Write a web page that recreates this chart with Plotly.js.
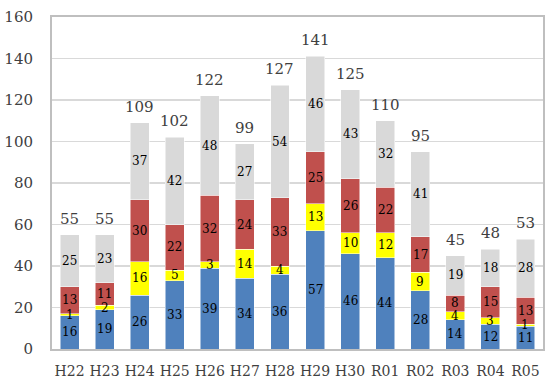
<!DOCTYPE html>
<html>
<head>
<meta charset="utf-8">
<script src="https://cdn.plot.ly/plotly-3.0.1.min.js"></script>
<style>html,body{margin:0;padding:0;background:#fff;}#chart{width:551px;height:388px;}</style>
</head>
<body>
<div id="chart"></div>
<script>
const categories = ["H22","H23","H24","H25","H26","H27","H28","H29","H30","R01","R02","R03","R04","R05"];
const blueVals   = [16,19,26,33,39,34,36,57,46,44,28,14,12,11];
const yellowVals = [1,2,16,5,3,14,4,13,10,12,9,4,3,1];
const redVals    = [13,11,30,22,32,24,33,25,26,22,17,8,15,13];
const grayVals   = [25,23,37,42,48,27,54,46,43,32,41,19,18,28];
const totals     = [55,55,109,102,122,99,127,141,125,110,95,45,48,53];
const yTicks     = [0,20,40,60,80,100,120,140,160];

const serif = "DejaVu Serif";
const seriesList = [blueVals, yellowVals, redVals, grayVals];
const colors = ['#4F81BD','#FFFF00','#C0504D','#D9D9D9'];
const data = seriesList.map((vals,k)=>({
  type:'bar', x:categories, y:vals, textposition:'none',
  marker:{color:colors[k], line:{color:'#ffffff', width:0.5}},
  hoverinfo:'none'
}));

const annotations = [];
categories.forEach((c,i)=>{
  let base = 0;
  seriesList.forEach(vals=>{
    annotations.push({x:c, y:base + vals[i]/2, text:String(vals[i]), showarrow:false,
      xanchor:'center', yanchor:'middle', font:{family:serif, size:12, color:'#000'}});
    base += vals[i];
  });
  annotations.push({x:c, y:totals[i], text:String(totals[i]), showarrow:false,
    yanchor:'bottom', yshift:5, font:{family:serif, size:15, color:'#404040'}});
});

const layout = {
  width:551, height:388,
  margin:{l:52, r:8, t:17, b:39},
  barmode:'stack', bargap:0.46, showlegend:false,
  paper_bgcolor:'#fff', plot_bgcolor:'#fff',
  font:{family:serif, color:'#404040'},
  xaxis:{type:'category', showgrid:false, showline:true, linecolor:'#BFBFBF', linewidth:2, mirror:true,
         ticks:'', tickangle:0, tickfont:{family:serif, size:14, color:'#404040'}, ticklabelstandoff:8},
  yaxis:{range:[0,160], tickvals:yTicks, ticktext:yTicks.map(String), showgrid:true, gridcolor:'#D9D9D9', gridwidth:1.5,
         showline:true, linecolor:'#BFBFBF', linewidth:2, mirror:true, zeroline:false,
         ticks:'', tickfont:{family:serif, size:15, color:'#404040'}, ticklabelstandoff:14},
  annotations:annotations
};
Plotly.newPlot('chart', data, layout, {staticPlot:true, displayModeBar:false});
</script>
</body>
</html>
